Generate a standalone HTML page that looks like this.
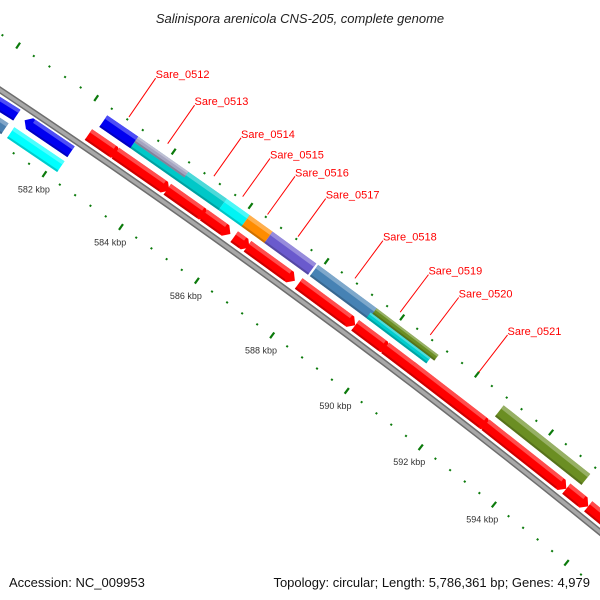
<!DOCTYPE html>
<html><head><meta charset="utf-8">
<style>
html,body{margin:0;padding:0;background:#fff;overflow:hidden;}
svg{display:block;}
text{font-family:"Liberation Sans",sans-serif;}
</style></head>
<body>
<svg id="map" width="600" height="600" viewBox="0 0 600 600" xmlns="http://www.w3.org/2000/svg">
<rect x="0" y="0" width="600" height="600" fill="#fff"/>
<g id="ticks"></g>
<g id="backbone"></g>
<g id="features"></g>
<g id="labels"></g>
<text x="300" y="23" text-anchor="middle" font-size="13" font-style="italic" fill="#222">Salinispora arenicola CNS-205, complete genome</text>
<text x="9" y="587" font-size="13" fill="#111">Accession: NC_009953</text>
<text x="590" y="587" text-anchor="end" font-size="13" fill="#111">Topology: circular; Length: 5,786,361 bp; Genes: 4,979</text>
</svg>
<script>
// ---- data (kbp) ----
const tickLabelsKbp = [580, 582, 584, 586, 588, 590, 592, 594];
const redStarts = [582.3, 583.0, 584.35, 585.3, 586.1, 586.45, 587.8, 589.3, 590.1, 590.8, 592.8, 595.0, 595.6];
const redEnds   = [583.1, 584.4, 585.4, 586.0, 586.5, 587.7, 589.3, 590.2, 591.0, 592.9, 595.0, 595.6, 597.0];
const geneNames  = ["Sare_0514", "Sare_0512", "Sare_0513", "Sare_0515", "Sare_0516", "Sare_0517", "Sare_0518", "Sare_0519", "Sare_0520", "Sare_0521"];
const geneStarts = [583.2, 582.4, 583.2, 585.5, 586.1, 586.7, 587.9, 589.45, 589.4, 592.85];
const geneEnds   = [585.5, 583.2, 584.5, 586.1, 586.7, 587.85, 589.5, 591.1, 591.0, 595.2];
const geneColors = ["#00c8c8", "#0000f0", "#a4a4c0", "#00f4f4", "#ff8c00", "#6a5acd", "#4682b4", "#6b8e23", "#00cdcd", "#6b8e23"];
const geneParts  = ["full", "full", "top", "full", "full", "full", "full", "top", "bottom", "full"];
const labelNames = ["Sare_0512","Sare_0513","Sare_0514","Sare_0515","Sare_0516","Sare_0517","Sare_0518","Sare_0519","Sare_0520","Sare_0521"];
const labelKbp   = [582.8, 583.8, 585.0, 585.75, 586.4, 587.2, 588.7, 589.9, 590.7, 592.0];
const revStarts = [570.0, 581.0];
const revEnds   = [580.8, 582.2];
const revColors = ["#0000f0", "#0000f0"];
const rev2Starts = [578.0, 580.9];
const rev2Ends   = [580.75, 582.2];
const rev2Colors = ["#4a7fb0", "#00ffff"];

// ---- geometry ----
const NS = "http://www.w3.org/2000/svg";
function circ(a,b,c){
  const d = 2*(a[0]*(b[1]-c[1])+b[0]*(c[1]-a[1])+c[0]*(a[1]-b[1]));
  const ux = ((a[0]*a[0]+a[1]*a[1])*(b[1]-c[1])+(b[0]*b[0]+b[1]*b[1])*(c[1]-a[1])+(c[0]*c[0]+c[1]*c[1])*(a[1]-b[1]))/d;
  const uy = ((a[0]*a[0]+a[1]*a[1])*(c[0]-b[0])+(b[0]*b[0]+b[1]*b[1])*(a[0]-c[0])+(c[0]*c[0]+c[1]*c[1])*(b[0]-a[0]))/d;
  return [ux,uy];
}
const C = circ([0,90],[270,278],[600,532]);
const R = Math.hypot(0-C[0], 90-C[1]);
const L1 = [35,188], L2 = [481,521];
const th1 = Math.atan2(L1[1]-C[1], L1[0]-C[0]);
const th2 = Math.atan2(L2[1]-C[1], L2[0]-C[0]);
const k = (th2-th1)/12;
const labelR = (Math.hypot(L1[0]-C[0],L1[1]-C[1])+Math.hypot(L2[0]-C[0],L2[1]-C[1]))/2;
const pxPerKbp = Math.abs(R*k);
function ang(kb){ return th1 + (kb-582)*k; }
function pt(kb, r){ const t = ang(kb); return [C[0]+r*Math.cos(t), C[1]+r*Math.sin(t)]; }
function f(p){ return p[0].toFixed(2)+","+p[1].toFixed(2); }
function el(tag, attrs, parent){ const e = document.createElementNS(NS, tag); for (const a in attrs) e.setAttribute(a, attrs[a]); parent.appendChild(e); return e; }

// ---- backbone ----
const bb = document.getElementById("backbone");
function arcPath(b0,b1,r){ let s=""; for(let i=0;i<=40;i++){ const kb=b0+(b1-b0)*i/40; s+=(i?"L":"M")+f(pt(kb,r)); } return s; }
const bbOuter = el("path",{d:arcPath(570,605,R),stroke:"#6e6e6e",fill:"none","stroke-width":6.5},bb);


const bbInner = el("path",{d:arcPath(570,605,R),stroke:"#a8a8a8",fill:"none","stroke-width":3.5},bb);



// ---- ticks ----
const tg = document.getElementById("ticks");
const outerTickR = R + 47, innerTickR = R - 45;
for (let i = 0; i <= 46; i++) {
  const kb = 578 + i*0.4;
  const major = Math.abs((kb/2) - Math.round(kb/2)) < 1e-6;
  [outerTickR, innerTickR].forEach(function(rr){
    const h = major ? 3.5 : 1;
    const t = el("line",{x1:pt(kb,rr-h)[0],y1:pt(kb,rr-h)[1],x2:pt(kb,rr+h)[0],y2:pt(kb,rr+h)[1],stroke:"#0b7a0b","stroke-width":major?2.2:2},tg);
    
    
  });
}
tickLabelsKbp.forEach(function(kb){
  const p = pt(kb, labelR);
  const t = el("text",{x:p[0],y:p[1]+3,"text-anchor":"middle","font-size":"9",fill:"#333"},tg);
  t.textContent = kb + " kbp";
  
  
});

// ---- features ----
const fg = document.getElementById("features");
function shade(hex, amt){
  const n = parseInt(hex.slice(1),16); let r=(n>>16)&255,g=(n>>8)&255,b=n&255;
  if (amt>0){ r+= (255-r)*amt; g+=(255-g)*amt; b+=(255-b)*amt; } else { r*=1+amt; g*=1+amt; b*=1+amt; }
  return "rgb("+Math.round(r)+","+Math.round(g)+","+Math.round(b)+")";
}
function feature(s, e, r0, r1, dir, color, name){
  const hb = 6/pxPerKbp;
  const rm = (r0+r1)/2;
  let pts = [];
  if (dir === 1) {
    const eb = Math.max(s, e-hb);
    pts = [pt(s,r1), pt(eb,r1), pt(e,rm), pt(eb,r0), pt(s,r0)];
  } else if (dir === -1) {
    const sb = Math.min(e, s+hb);
    pts = [pt(sb,r1), pt(e,r1), pt(e,r0), pt(sb,r0), pt(s,rm)];
  } else {
    pts = [pt(s,r1), pt(e,r1), pt(e,r0), pt(s,r0)];
  }
  const g = el("g",{},fg);
  
  
  const body = el("polygon",{points:pts.map(f).join(" "),fill:color},g);
  
  
  const rl = r1 - (r1-r0)*0.3;
  const ee = dir===1 ? Math.max(s,e-hb*1.4) : e;
  const ss = dir===-1 ? Math.min(e,s+hb*1.4) : s;
  const hl = el("polygon",{points:[pt(ss,r1),pt(ee,r1),pt(ee,rl),pt(ss,rl)].map(f).join(" "),fill:shade(color,0.3)},g);
  
  
  const dk = el("polygon",{points:[pt(ss,r0+2),pt(ee,r0+2),pt(ee,r0),pt(ss,r0)].map(f).join(" "),fill:shade(color,-0.2)},g);
  
  
}
for (let i = 0; i < revStarts.length; i++) feature(revStarts[i], revEnds[i], R-18, R-5, i===0?0:-1, revColors[i], "reverse-gene-" + i);
for (let i = 0; i < rev2Starts.length; i++) feature(rev2Starts[i], rev2Ends[i], R-36, R-23, 0, rev2Colors[i], "reverse-gene2-" + i);
for (let i = 0; i < redStarts.length; i++) feature(redStarts[i], redEnds[i], R+6, R+19, 1, "#ff0000", "cds-" + i);
for (let i = 0; i < geneStarts.length; i++) {
  let r0 = R+25, r1 = R+39;
  if (geneParts[i] === "top") r0 = R+32;
  if (geneParts[i] === "bottom") r1 = R+32;
  feature(geneStarts[i], geneEnds[i], r0, r1, 0, geneColors[i], geneNames[i].toLowerCase().replace("_","-"));
}

// ---- labels ----
const lg = document.getElementById("labels");
for (let i = 0; i < labelNames.length; i++) {
  const a = pt(labelKbp[i], R+50), b = pt(labelKbp[i], R+97);
  const ln = el("line",{x1:a[0],y1:a[1],x2:b[0],y2:b[1],stroke:"#ff0000","stroke-width":1},lg);
  
  
  const t = el("text",{x:b[0],y:b[1],"font-size":"11",fill:"#ff0000"},lg);
  t.textContent = labelNames[i];
  
  
}
</script>
</body></html>
